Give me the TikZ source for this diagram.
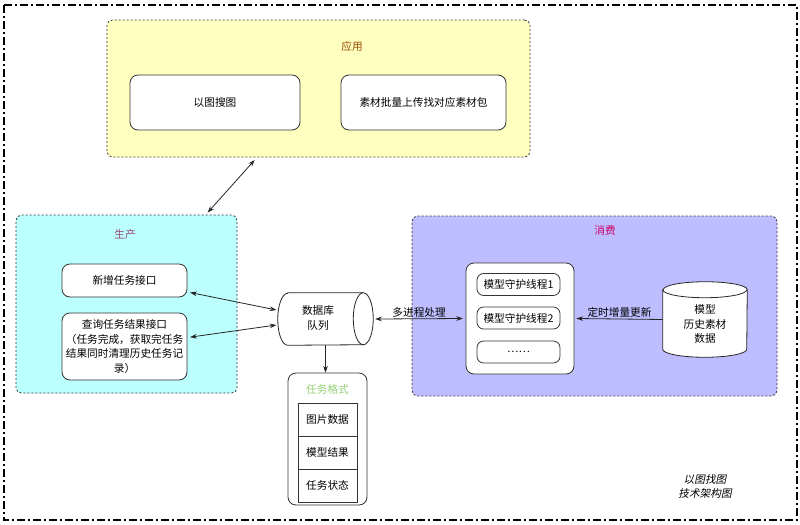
\documentclass[tikz,border=0pt]{standalone}
\usepackage{fontspec}
\setmainfont{Noto Sans CJK SC}
\newfontfamily\cjkit[FakeSlant=0.2]{Noto Sans CJK SC}
\usetikzlibrary{arrows.meta}
\definecolor{appfill}{HTML}{FFFFC0}
\definecolor{prodfill}{HTML}{BBFFFF}
\definecolor{consfill}{HTML}{BDBDFF}
\definecolor{apptitle}{HTML}{994C00}
\definecolor{prodtitle}{HTML}{994C73}
\definecolor{constitle}{HTML}{CC0066}
\definecolor{fmttitle}{HTML}{97D077}
\definecolor{edge}{HTML}{333333}
\tikzset{
  container/.style={draw=edge, line width=0.6pt, dash pattern=on 1.5pt off 1.5pt, rounded corners=4pt, inner sep=0pt},
  box/.style={draw=black!80, line width=0.6pt, rounded corners=6pt, fill=white, inner sep=2pt, align=center},
  cell/.style={draw=black!80, line width=0.6pt, fill=white, inner sep=0pt},
  txt/.style={inner sep=1pt, align=center},
  conn/.style={draw=black!85, line width=0.6pt},
  tip/.style={-{Stealth[length=5pt,width=3.5pt]}},
  tips/.style={{Stealth[length=5pt,width=3.5pt]}-{Stealth[length=5pt,width=3.5pt]}},
}
\begin{document}
\begin{tikzpicture}[x=0.75pt,y=-0.75pt, font=\fontsize{8pt}{11.2pt}\selectfont]
\useasboundingbox (0,0) rectangle (800,525);
% outer frame
\draw[line width=1.1pt, dash pattern=on 6pt off 2.5pt on 1pt off 2.5pt] (4,5) rectangle (797,520);

% application
\node[container, fill=appfill, minimum width=317.25pt, minimum height=102.75pt] (app) at (318.5,88.5) {};
\node[txt, text=apptitle] (apptl) at (352,46) {应用};
\node[box, minimum width=127.5pt, minimum height=41.25pt] (s1) at (215,102.5) {以图搜图};
\node[box, minimum width=123.75pt, minimum height=41.25pt] (s2) at (423.5,102.5) {素材批量上传找对应素材包};

% production
\node[container, fill=prodfill, minimum width=165.75pt, minimum height=133.5pt] (prod) at (126.5,304) {};
\node[txt, text=prodtitle] (prodtl) at (125,234) {生产};
\node[box, minimum width=93.75pt, minimum height=24.75pt] (p1) at (124.5,280.5) {新增任务接口};
\node[box, minimum width=93.75pt, minimum height=50.25pt] (p2) at (124.5,346.5) {查询任务结果接口\\（任务完成，获取完任务\\结果同时清理历史任务记\\录）};

% consumption
\node[container, fill=consfill, minimum width=273.75pt, minimum height=135pt] (cons) at (594.5,306) {};
\node[txt, text=constitle] (constl) at (605,230) {消费};
\node[box, minimum width=81pt, minimum height=83.25pt] (thr) at (520,318.5) {};
\node[box, minimum width=62.25pt, minimum height=16.5pt, rounded corners=5pt] (t1) at (518.5,284.5) {模型守护线程1};
\node[box, minimum width=62.25pt, minimum height=16.5pt, rounded corners=5pt] (t2) at (518.5,318) {模型守护线程2};
\node[box, minimum width=62.25pt, minimum height=16.5pt, rounded corners=5pt] (t3) at (518.5,352) {……};

% database queue (horizontal cylinder)
\node[minimum width=71.25pt, minimum height=39pt, inner sep=0pt] (db) at (325.5,319) {};
\draw[conn, fill=white] ([xshift=7.5pt]db.north west) -- ([xshift=-7.5pt]db.north east)
  arc[start angle=90,end angle=-90,x radius=7.5pt,y radius=19.5pt]
  -- ([xshift=7.5pt]db.south west)
  arc[start angle=270,end angle=90,x radius=7.5pt,y radius=19.5pt] -- cycle;
\draw[conn] ([xshift=-7.5pt]db.north east) arc[start angle=90,end angle=270,x radius=7.5pt,y radius=19.5pt];
\node[txt] (dblbl) at (318,318) {数据库\\队列};

% history data (vertical cylinder)
\node[minimum width=63pt, minimum height=56.25pt, inner sep=0pt] (hist) at (705,319.5) {};
\draw[conn, fill=white] ([yshift=-6pt]hist.north west) -- ([yshift=6pt]hist.south west)
  arc[start angle=180,end angle=360,x radius=31.5pt,y radius=6pt]
  -- ([yshift=-6pt]hist.north east)
  arc[start angle=0,end angle=180,x radius=31.5pt,y radius=6pt] -- cycle;
\draw[conn] ([yshift=-6pt]hist.north west) arc[start angle=180,end angle=360,x radius=31.5pt,y radius=6pt];
\node[txt] (histlbl) at (705,324) {模型\\历史素材\\数据};

% task format
\node[box, minimum width=59.25pt, minimum height=99pt] (fmt) at (327.5,439) {};
\node[txt, text=fmttitle] (fmttl) at (327.5,389) {任务格式};
\node[cell, minimum width=44.25pt, minimum height=24.75pt] (f1) at (327.5,419.5) {图片数据};
\node[cell, minimum width=44.25pt, minimum height=24.75pt] (f2) at (327.5,452.5) {模型结果};
\node[cell, minimum width=44.25pt, minimum height=24.75pt] (f3) at (327.5,485.5) {任务状态};

% connectors
\draw[conn, tips] ([xshift=111pt,yshift=-2pt]app.south west) -- ([xshift=144pt,yshift=1.5pt]prod.north west);
\draw[conn, tips] ([xshift=2pt,yshift=-9pt]p1.east) -- ([xshift=-1pt,yshift=6.75pt]db.west);
\draw[conn, tips] ([xshift=2pt,yshift=7pt]p2.east) -- ([xshift=-1pt,yshift=-4.5pt]db.west);
\draw[conn, tip] (db.south) -- (db.south |- fmt.north);
\draw[conn, tips] ([xshift=1.5pt]db.east) -- node[txt, above=0pt] (lbl1) {多进程处理} ([xshift=-2pt]thr.west);
\draw[conn, tip] (hist.west) -- node[txt, above=0pt] (lbl2) {定时增量更新} ([xshift=1.5pt]thr.east);

% caption
\node[txt, font=\cjkit\fontsize{8pt}{10.5pt}\selectfont] (cap) at (705,486) {以图找图\\技术架构图};
\end{tikzpicture}
\end{document}
